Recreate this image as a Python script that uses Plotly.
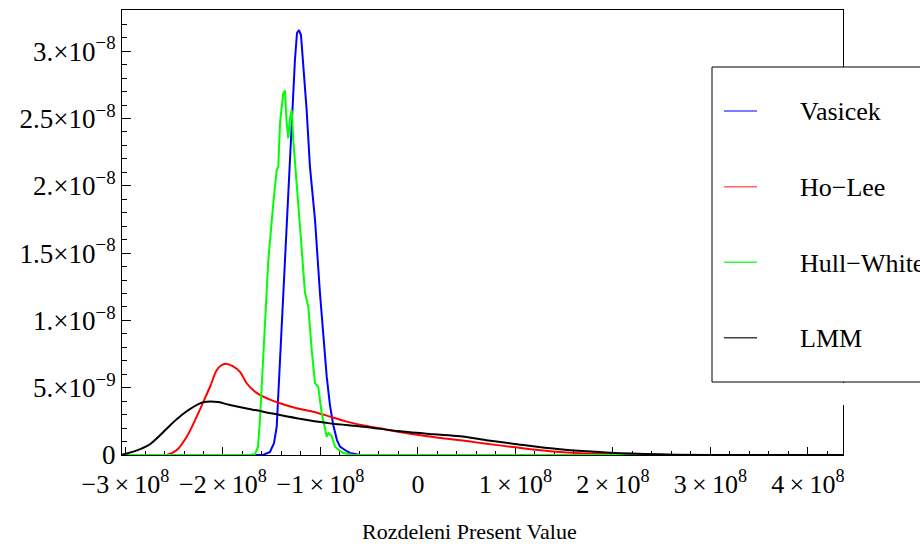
import numpy as np
import plotly.graph_objects as go

# ---- data (x in units of 1e8, density in units of 1e-9) ----
series_names = ["Vasicek", "Ho\u2212Lee", "Hull\u2212White", "LMM"]
series_colors = ["#0000ff", "#ff0000", "#00ff00", "#000000"]
legend_colors = ["#5050ff", "#ff6464", "#30ff30", "#404040"]

vasicek_x = [-3.04, -1.59, -1.518, -1.477, -1.449, -1.415, -1.382, -1.347, -1.295, -1.262,
             -1.241, -1.221, -1.200, -1.176, -1.142, -1.108, -1.056, -1.005, -0.936, -0.903,
             -0.869, -0.831, -0.800, -0.749, -0.697, -0.595, 4.36]
vasicek_y = [0, 0, 0.22, 0.87, 2.10, 7.06, 12.0, 16.96, 24.39, 29.35,
             31.35, 31.57, 31.2, 28.85, 25.63, 21.42, 17.46, 12.0, 5.82, 3.71,
             2.23, 1.11, 0.62, 0.37, 0.15, 0, 0]

holee_x = [-3.04, -2.60, -2.577, -2.474, -2.372, -2.270, -2.201, -2.133, -2.065, -2.02,
           -1.972, -1.90, -1.826, -1.757, -1.68, -1.587, -1.415, -1.244, -1.074, -0.903,
           -0.731, -0.526, -0.390, -0.185, 0.157, 0.431, 0.974, 1.456, 1.969, 2.482, 4.36]
holee_y = [0, 0, 0, 0.37, 1.36, 2.85, 3.96, 5.07, 6.29, 6.65,
           6.78, 6.6, 6.17, 5.33, 4.75, 4.33, 3.84, 3.47, 3.22, 2.85,
           2.48, 2.15, 1.98, 1.71, 1.34, 1.09, 0.59, 0.22, 0.05, 0, 0]

hullwhite_x = [-3.04, -1.723, -1.672, -1.641, -1.621, -1.587, -1.535, -1.484, -1.449, -1.433,
               -1.415, -1.382, -1.364, -1.349, -1.330, -1.313, -1.295, -1.279, -1.262, -1.210,
               -1.159, -1.125, -1.090, -1.056, -1.023, -0.988, -0.936, -0.918, -0.885, -0.851,
               -0.800, -0.766, -0.667, 4.36]
hullwhite_y = [0, 0, 0.07, 0.6, 2.6, 7.06, 14.49, 18.7, 21.17, 21.42,
               24.67, 26.87, 27.07, 24.9, 23.53, 25.0, 25.63, 23.4, 21.92, 16.96,
               12.04, 11.02, 7.8, 5.35, 5.07, 3.12, 1.36, 1.63, 1.41, 0.62,
               0.3, 0.15, 0, 0]

lmm_x = [-3.036, -2.92, -2.836, -2.749, -2.664, -2.578, -2.475, -2.372, -2.236, -2.167, -2.05, -1.928,
         -1.587, -1.244, -0.903, -0.561, -0.185, 0.157, 0.431, 0.70, 0.974, 1.456,
         1.969, 2.482, 2.995, 4.36]
lmm_y = [0.02, 0.25, 0.48, 0.80, 1.34, 1.95, 2.65, 3.25, 3.84, 3.96, 3.93, 3.71,
         3.22, 2.73, 2.35, 2.10, 1.76, 1.54, 1.39, 1.1, 0.84, 0.42,
         0.17, 0.05, 0, 0]

x_tickvals = [-3e8, -2e8, -1e8, 0, 1e8, 2e8, 3e8, 4e8]
x_ticktext = ["\u22123\u2009\u00d7\u200910<sup>8</sup>", "\u22122\u2009\u00d7\u200910<sup>8</sup>",
              "\u22121\u2009\u00d7\u200910<sup>8</sup>", "0",
              "1\u2009\u00d7\u200910<sup>8</sup>", "2\u2009\u00d7\u200910<sup>8</sup>",
              "3\u2009\u00d7\u200910<sup>8</sup>", "4\u2009\u00d7\u200910<sup>8</sup>"]
y_tickvals = [0, 5e-9, 1e-8, 1.5e-8, 2e-8, 2.5e-8, 3e-8]
y_ticktext = ["0", "5.\u00d710<sup>\u22129</sup>", "1.\u00d710<sup>\u22128</sup>", "1.5\u00d710<sup>\u22128</sup>",
              "2.\u00d710<sup>\u22128</sup>", "2.5\u00d710<sup>\u22128</sup>", "3.\u00d710<sup>\u22128</sup>"]
x_title = "Rozdeleni Present Value"

XS, YS = 1e8, 1e-9
FONT = "Liberation Serif"

all_x = [vasicek_x, holee_x, hullwhite_x, lmm_x]
all_y = [vasicek_y, holee_y, hullwhite_y, lmm_y]
shapes_line = ["linear", "spline", "linear", "spline"]

fig = go.Figure()
for name, xs, ys, col, shp in zip(series_names, all_x, all_y, series_colors, shapes_line):
    fig.add_trace(go.Scatter(
        x=np.array(xs) * XS, y=np.array(ys) * YS, mode="lines", name=name,
        line=dict(color=col, width=2, shape=shp, smoothing=1.0 if shp == "spline" else None),
        showlegend=False, hoverinfo="skip"))

axis_common = dict(showline=True, linecolor="black", linewidth=1, mirror=True,
                   showgrid=False, zeroline=False, ticks="inside", tickcolor="black",
                   layer="below traces")

fig.update_xaxes(range=[-3.036e8, 4.36e8], tickmode="array", tickvals=x_tickvals, ticktext=x_ticktext,
                 ticklen=8, ticklabelstandoff=6, tickfont=dict(family=FONT, size=26, color="black"),
                 minor=dict(ticks="inside", ticklen=4, tick0=0, dtick=2e7, tickcolor="black", showgrid=False),
                 **axis_common)
fig.update_yaxes(range=[0, 3.306e-8], tickmode="array", tickvals=y_tickvals, ticktext=y_ticktext,
                 ticklen=9, ticklabelstandoff=0, tickfont=dict(family=FONT, size=27, color="black"),
                 minor=dict(ticks="inside", ticklen=5, tick0=0, dtick=1e-9, tickcolor="black", showgrid=False),
                 **axis_common)

L, R, T, B = 122, 843, 10, 455
def px(x):
    return (x - L) / (R - L)
def py(y):
    return (B - y) / (B - T)

shapes = []
annotations = []
# legend box
shapes.append(dict(type="rect", xref="paper", yref="paper", x0=px(712), x1=px(930), y0=py(382), y1=py(67),
                   fillcolor="white", line=dict(color="black", width=1), layer="above"))
shapes.append(dict(type="rect", xref="paper", yref="paper", x0=px(838), x1=px(850), y0=py(405), y1=py(383),
                   fillcolor="white", line=dict(width=0), layer="above"))
legend_y = [111, 186.7, 262.3, 337.7]
for name, col, yy in zip(series_names, legend_colors, legend_y):
    shapes.append(dict(type="line", xref="paper", yref="paper", x0=px(724), x1=px(757), y0=py(yy), y1=py(yy),
                       line=dict(color=col, width=1.5), layer="above"))
    annotations.append(dict(xref="paper", yref="paper", x=px(798), y=py(yy + 1), xanchor="left", yanchor="middle",
                            text=name, showarrow=False, font=dict(family=FONT, size=26, color="black")))

annotations.append(dict(xref="paper", yref="paper", x=px(469), y=py(531), xanchor="center", yanchor="middle",
                        text=x_title, showarrow=False, font=dict(family=FONT, size=22, color="black")))

fig.update_layout(width=920, height=544, margin=dict(l=L, r=920 - R, t=T, b=544 - B),
                  plot_bgcolor="white", paper_bgcolor="white", showlegend=False,
                  font=dict(family=FONT),
                  shapes=shapes, annotations=annotations)

fig.write_html("out.html")
